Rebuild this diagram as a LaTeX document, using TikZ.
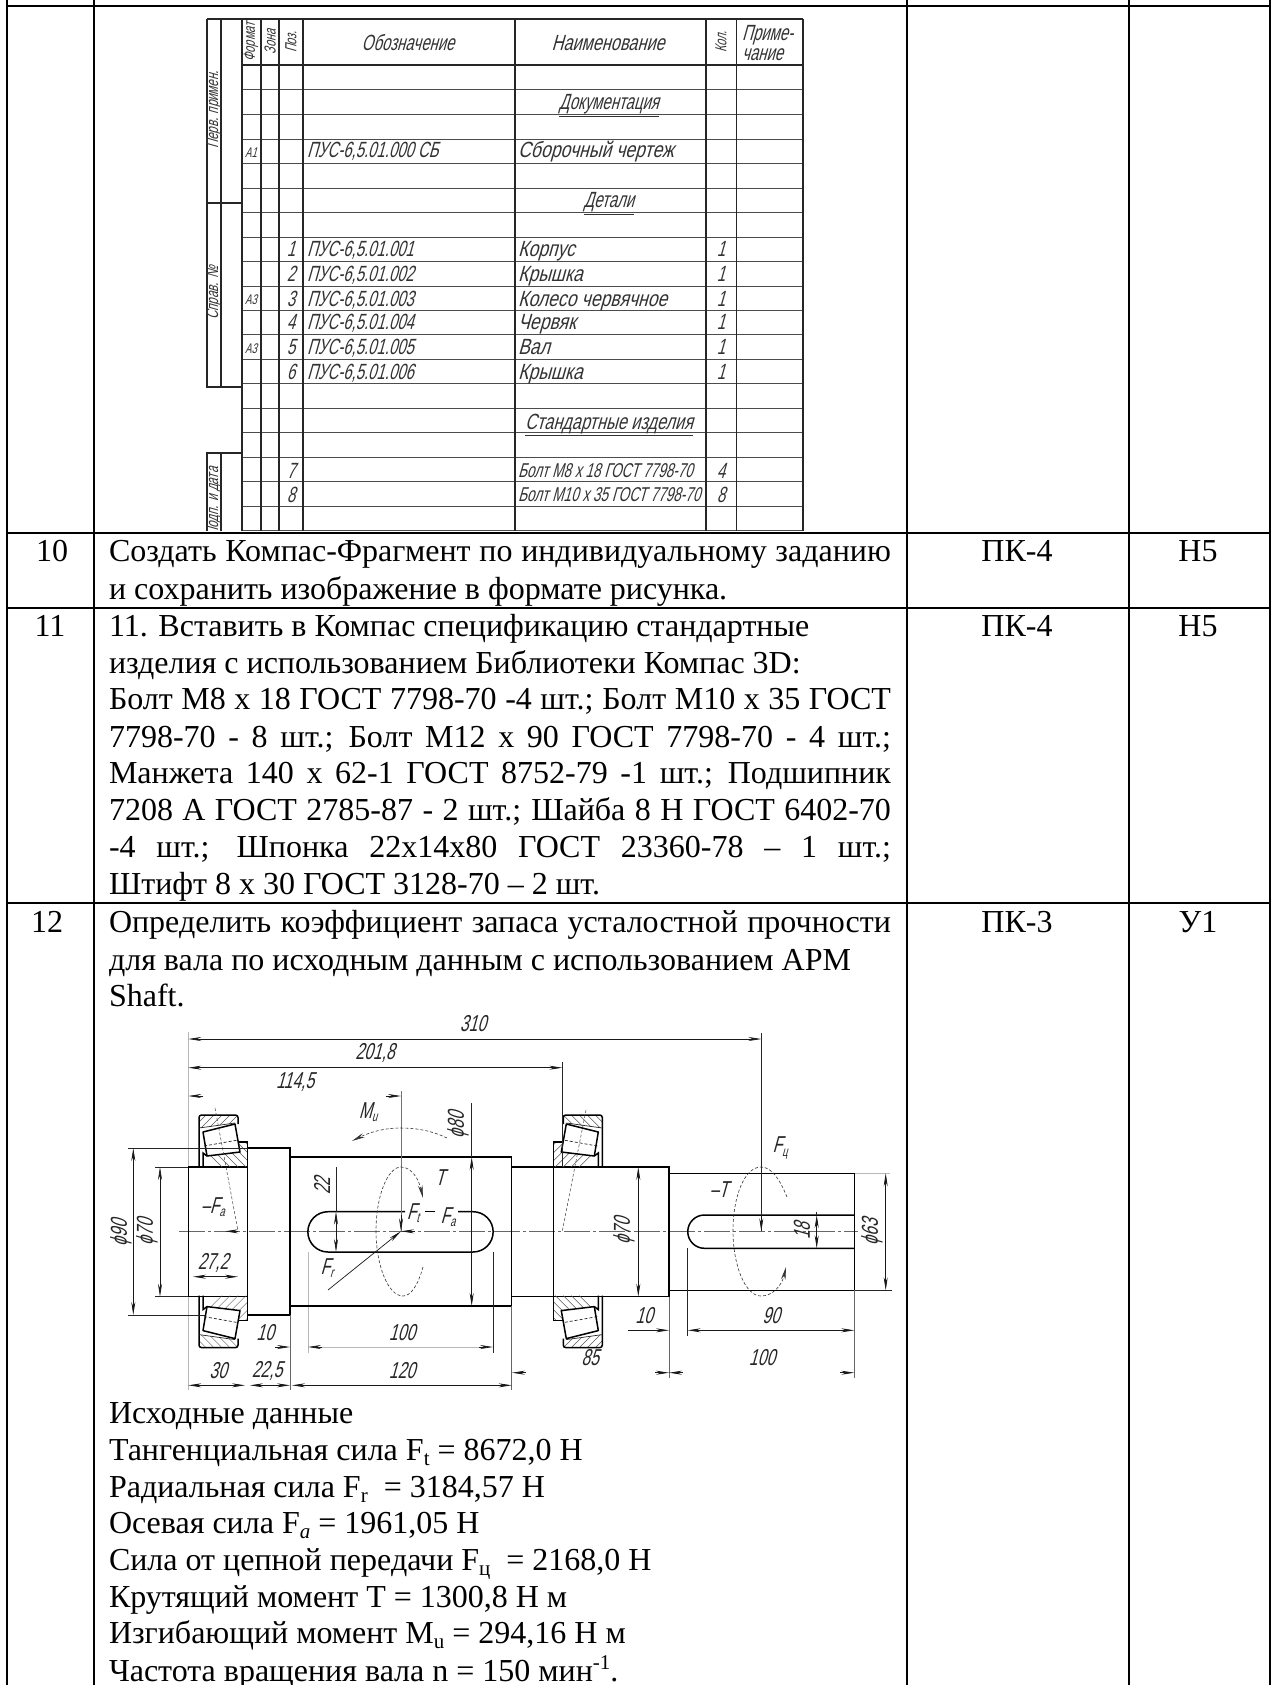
\documentclass[tikz,border=0pt]{standalone}
\usepackage{fontspec}
\setmainfont{Liberation Serif}
\newfontfamily\gost[FakeSlant=0.28,FakeStretch=0.68]{Liberation Sans}
\newfontfamily\gostc[FakeSlant=0.28,FakeStretch=0.74]{Liberation Sans}
\newfontfamily\gostb[FakeSlant=0.28,FakeStretch=0.8]{Liberation Sans}
\usetikzlibrary{arrows.meta}
\newcommand{\sbs}[1]{\raisebox{-5pt}{\fontsize{21}{21}\selectfont #1}}
\newcommand{\sps}[1]{\raisebox{12pt}{\fontsize{21}{21}\selectfont #1}}
\newcommand{\gsub}[1]{\raisebox{-3.5pt}{\fontsize{14}{14}\selectfont #1}}
\newcommand{\jl}[1]{\makebox[782pt][s]{#1}}
\newcommand{\tline}[2]{\node[txt] at (109,#1) {#2};}
\newcommand{\cell}[3]{\node[cel] at (#1,#2) {#3};}
\newcommand{\dtx}[3]{\node[dtext] at (#1,#2) {#3};}
\newcommand{\dtr}[3]{\node[dtext,rotate=90] at (#1,#2) {#3};}
\newcommand{\spr}[4]{\node[spn] at (291,#1) {#2};
  \node[spc,anchor=base west] at (307,#1) {#3};
  \node[spd,anchor=base west] at (518,#1) {#4};
  \node[spn] at (721,#1) {1};}
\newcommand{\bearing}{%
  \begin{scope}
    \clip (199,1128)--(199,1115)--(238,1115)--(238,1123)--cycle;
    \foreach \k in {0,8,...,64} {\draw[hatch] (170+\k,1135)--(195+\k,1110);}
  \end{scope}
  \begin{scope}
    \clip (203,1153)--(207,1156)--(240,1152)--(238,1142)--(247.7,1142)--(247.7,1167)--(203,1167)--cycle;
    \foreach \k in {0,8,...,72} {\draw[hatch] (190+\k,1135)--(225+\k,1170);}
  \end{scope}
  \draw[thickl,rounded corners=2.5pt] (199,1167)--(199,1115)--(238,1115)--(238,1124);
  \draw[thinl] (199,1128)--(235,1123);
  \draw[thickl,line join=round] (203,1132)--(235,1124)--(240,1152)--(207,1156)--cycle;
  \draw[thickl] (203,1167)--(203,1153)--(207,1156);
  \draw[thickl] (238,1142)--(247.7,1142)--(247.7,1167);
  \draw[thinl,densely dashed] (204,1146)--(238,1140);
}
\tikzset{
  txt/.style={anchor=base west,inner sep=0pt,outer sep=0pt,font=\fontsize{32}{36}\selectfont},
  cel/.style={anchor=base,inner sep=0pt,outer sep=0pt,font=\fontsize{32}{36}\selectfont},
  grid/.style={line width=2.3pt,black},
  spc/.style={inner sep=0pt,outer sep=0pt,font=\gost\fontsize{22}{26}\selectfont,text=black!80},
  spd/.style={spc,font=\gostb\fontsize{22}{26}\selectfont},
  spe/.style={spc,font=\gostc\fontsize{22}{26}\selectfont},
  spn/.style={spc,anchor=base,font=\gost\fontsize{22}{26}\selectfont},
  spr/.style={spc,anchor=center,rotate=90},
  heavy/.style={line width=1.5pt,black!85},
  light/.style={line width=0.9pt,black!70},
  dtext/.style={anchor=center,inner sep=0pt,outer sep=0pt,font=\gost\fontsize{23}{26}\selectfont,text=black!85},
  thickl/.style={line width=1.5pt,black},
  thinl/.style={line width=0.7pt,black!85},
  faint/.style={line width=0.5pt,black!28},
  hatch/.style={line width=0.5pt,black!65},
  dim/.style={line width=0.7pt,black!90},
  tip/.style={dim,-{Stealth[length=13pt,width=4pt]}},
  tips/.style={dim,{Stealth[length=13pt,width=4pt]}-{Stealth[length=13pt,width=4pt]}},
  centerl/.style={line width=0.5pt,black!60,dash pattern=on 26pt off 3pt on 3pt off 3pt},
  flow/.style={line width=0.6pt,black!80,densely dashed,-{Stealth[length=13pt,width=4.5pt]}},
  axisd/.style={line width=0.5pt,black!75,densely dashed},
}
\begin{document}
\begin{tikzpicture}[x=1pt,y=-1pt]
\useasboundingbox (0,0) rectangle (1276,1685);
\fill[white] (0,0) rectangle (1276,1685);
% ---- outer table
\foreach \xx in {7.3,94.3,906.7,1128.7,1270} {\draw[grid] (\xx,0)--(\xx,1685);}
\foreach \yy in {6,532.7,607.7,903.3} {\draw[grid] (6.2,\yy)--(1271.2,\yy);}
% ---- rows
\cell{52}{561.7}{10}
\cell{50}{636.7}{11}
\cell{47}{932.7}{12}
\cell{1017}{561.7}{ПК-4}\cell{1198}{561.7}{Н5}
\cell{1017}{636.7}{ПК-4}\cell{1198}{636.7}{Н5}
\cell{1017}{932.7}{ПК-3}\cell{1198}{932.7}{У1}
\tline{561.7}{\jl{Создать Компас-Фрагмент по индивидуальному заданию}}
\tline{599}{и сохранить изображение в формате рисунка.}
\tline{636.7}{11. Вставить в Компас спецификацию стандартные}
\tline{673.5}{изделия с использованием Библиотеки Компас 3D:}
\tline{709}{\jl{Болт М8 х 18 ГОСТ 7798-70 -4 шт.; Болт М10 х 35 ГОСТ}}
\tline{747}{\jl{7798-70 - 8 шт.; Болт М12 х 90 ГОСТ 7798-70 - 4 шт.;}}
\tline{783}{\jl{Манжета 140 х 62-1 ГОСТ 8752-79 -1 шт.; Подшипник}}
\tline{820}{\jl{7208 А ГОСТ 2785-87 - 2 шт.; Шайба 8 Н ГОСТ 6402-70}}
\tline{857}{\jl{-4 шт.; Шпонка 22х14х80 ГОСТ 23360-78 – 1 шт.;}}
\tline{894}{Штифт 8 х 30 ГОСТ 3128-70 – 2 шт.}
\tline{932.7}{\jl{Определить коэффициент запаса усталостной прочности}}
\tline{970}{для вала по исходным данным с использованием АРМ}
\tline{1006.7}{Shaft.}
\tline{1423}{Исходные данные}
\tline{1460}{Тангенциальная сила F\sbs{t} = 8672,0 Н}
\tline{1497}{Радиальная сила F\sbs{r} ~= 3184,57 Н}
\tline{1533}{Осевая сила F\sbs{\itshape a} = 1961,05 Н}
\tline{1570}{Сила от цепной передачи F\sbs{ц} ~= 2168,0 Н}
\tline{1607}{Крутящий момент Т = 1300,8 Н м}
\tline{1643}{Изгибающий момент М\sbs{u} = 294,16 Н м}
\tline{1681}{Частота вращения вала n = 150 мин\sps{-1}.}
% ---- specification
\foreach \yy in {89,114,139,163,188,212,237,261.5,286,310,334,359,383,408,432,457,481,506,530.7}
  {\draw[light] (242,\yy)--(803,\yy);}
\draw[heavy] (242,65)--(803,65);
\foreach \xx in {242,261,279,303,515,706,736.5,803} {\draw[heavy] (\xx,19)--(\xx,530.7);}
\draw[heavy] (207,19)--(803,19);
\draw[heavy] (207,19)--(207,387)--(242,387);
\draw[heavy] (221,19)--(221,387);
\draw[heavy] (207,203)--(242,203);
\draw[heavy] (242,453)--(207,453)--(207,530.7);
\draw[heavy] (221,453)--(221,530.7);
\node[spr,font=\gost\fontsize{17}{20}\selectfont] at (214,110) {Перв. примен.};
\node[spr,font=\gost\fontsize{17}{20}\selectfont] at (214,293) {Справ. №};
\begin{scope}
  \clip (207,453) rectangle (221,530.7);
  \node[spr,font=\gost\fontsize{17}{20}\selectfont] at (214,502) {Подп. и дата};
\end{scope}
\node[spr,font=\gost\fontsize{16}{18}\selectfont] at (251,42) {Формат};
\node[spr,font=\gost\fontsize{16}{18}\selectfont] at (270,42) {Зона};
\node[spr,font=\gost\fontsize{16}{18}\selectfont] at (291,42) {Поз.};
\node[spr,font=\gost\fontsize{16}{18}\selectfont] at (721,42) {Кол.};
\node[spc] at (408,43) {Обозначение};
\node[spe] at (608,43) {Наименование};
\node[spc,anchor=base west] at (742,41) {Приме-};
\node[spc,anchor=base west] at (742,61) {чание};
\node[spc,anchor=base] at (609,110) {\underline{Документация}};
\node[spc,anchor=base] at (609,208) {\underline{Детали}};
\node[spe,anchor=base] at (609,429) {\underline{Стандартные изделия}};
\node[spc,anchor=base,font=\gost\fontsize{14}{15}\selectfont] at (251,158) {А1};
\node[spc,anchor=base west] at (307,158) {ПУС-6,5.01.000 СБ};
\node[spd,anchor=base west] at (518,158) {Сборочный чертеж};
\spr{257}{1}{ПУС-6,5.01.001}{Корпус}
\spr{282}{2}{ПУС-6,5.01.002}{Крышка}
\spr{306}{3}{ПУС-6,5.01.003}{Колесо червячное}
\spr{330}{4}{ПУС-6,5.01.004}{Червяк}
\spr{354}{5}{ПУС-6,5.01.005}{Вал}
\spr{379}{6}{ПУС-6,5.01.006}{Крышка}
\node[spc,anchor=base,font=\gost\fontsize{14}{15}\selectfont] at (251,305) {А3};
\node[spc,anchor=base,font=\gost\fontsize{14}{15}\selectfont] at (251,353) {А3};
\node[spn] at (291,478) {7};
\node[spn] at (291,502) {8};
\node[spc,anchor=base west,font=\gost\fontsize{20}{22}\selectfont] at (518,477) {Болт М8 х 18 ГОСТ 7798-70};
\node[spc,anchor=base west,font=\gost\fontsize{20}{22}\selectfont] at (518,501) {Болт М10 х 35 ГОСТ 7798-70};
\node[spn] at (721,478) {4};
\node[spn] at (721,502) {8};
% ---- shaft: faint extension lines
\draw[faint] (188.3,1032)--(188.3,1167);
\draw[faint] (188.3,1296.7)--(188.3,1390);
\draw[faint] (308,1252)--(308,1353);
\draw[faint] (854.3,1173.3)--(890,1173.3);
\draw[centerl] (179,1231.3)--(858,1231.3);
% ---- shaft outline
\draw[thickl] (188.3,1167)--(247.7,1167)--(247.7,1148)--(290,1148)--(290,1157)--(511.7,1157)--(511.7,1167)--(669,1167)--(669,1173.3)--(854.3,1173.3)--(854.3,1290.3)--(669,1290.3)--(669,1296.7)--(511.7,1296.7)--(511.7,1306)--(290,1306)--(290,1315)--(247.7,1315)--(247.7,1296.7)--(188.3,1296.7)--cycle;
\draw[thickl] (247.7,1167)--(247.7,1296.7) (290,1157)--(290,1306) (511.7,1167)--(511.7,1296.7) (669,1173.3)--(669,1290.3) (553.3,1167)--(553.3,1296.7);
% keyway left
\draw[thickl] (405,1211.7)--(328,1211.7) .. controls (316.9,1211.7) and (307.85,1220.7) .. (307.85,1231.85) .. controls (307.85,1243) and (316.9,1252) .. (328,1252) -- (473,1252) .. controls (484.1,1252) and (493.15,1243) .. (493.15,1231.85) .. controls (493.15,1220.7) and (484.1,1211.7) .. (473,1211.7) -- (458,1211.7);
\draw[thickl] (425,1211.7)--(435,1211.7);
% keyway right
\draw[thickl] (854.3,1215)--(704.4,1215) .. controls (695.2,1215) and (687.75,1222.5) .. (687.75,1231.65) .. controls (687.75,1240.8) and (695.2,1248.3) .. (704.4,1248.3) -- (854.3,1248.3);
% ---- bearings
\bearing
\begin{scope}[shift={(0,2462.6)},yscale=-1]\bearing\end{scope}
\begin{scope}[shift={(801.3,0)},xscale=-1]\bearing\end{scope}
\begin{scope}[shift={(801.3,2462.6)},xscale=-1,yscale=-1]\bearing\end{scope}
\draw[axisd] (215,1108)--(238,1231);
\draw[axisd] (586,1110)--(562.3,1231);
% ---- long dimensions
\draw[tips] (188.3,1039)--(761.3,1039);
\draw[thinl] (761.3,1033)--(761.3,1231.3);
\dtx{473}{1024}{310}
\draw[tips] (188.3,1067.7)--(562.3,1067.7);
\draw[thinl] (562.3,1062)--(562.3,1167);
\dtx{375}{1053}{201,8}
\draw[tip] (203,1096)--(188.3,1096);
\draw[tip] (386,1096)--(401,1096);
\draw[line width=0.6pt,black!55] (401,1091)--(401,1231.3);
\dtx{295}{1082}{114,5}
% ---- diameters
\draw[thinl] (128,1148)--(248,1148) (128,1315)--(205,1315);
\draw[tips] (133.3,1148)--(133.3,1315);
\dtr{121}{1233}{ϕ90}
\draw[thinl] (155,1167)--(188,1167) (155,1296.7)--(188,1296.7);
\draw[tips] (160,1167)--(160,1296.7);
\dtr{147}{1232}{ϕ70}
\draw[tips] (471.7,1157)--(471.7,1306);
\draw[thinl] (471.7,1103)--(471.7,1157);
\dtr{458}{1125}{ϕ80}
\draw[tips] (638.3,1167)--(638.3,1296.7);
\dtr{624}{1231}{ϕ70}
\draw[tips] (885.7,1173.3)--(885.7,1290.3);
\draw[thinl] (854.3,1290.3)--(892,1290.3);
\dtr{872}{1232}{ϕ63}
% keyway widths
\draw[tips] (336,1211.7)--(336,1252);
\draw[thinl] (336,1167)--(336,1211.7);
\dtr{322}{1186}{22}
\draw[tips] (816.7,1215)--(816.7,1248.3);
\draw[thinl] (816.7,1212)--(816.7,1215);
\dtr{802}{1231}{18}
% 27,2
\draw[tips] (193,1276.7)--(238,1276.7);
\dtx{213}{1263}{27,2}
% forces
\draw[tip] (238,1231.3)--(225,1231.3);
\dtx{213}{1207}{–F\gsub{a}}
\dtx{368}{1112}{M\gsub{u}}
\draw[flow] (447,1138) .. controls (430,1130) and (415,1128) .. (400,1128) .. controls (383,1128) and (368,1133) .. (352,1141);
\dtx{440}{1178}{T}
\draw[flow] (423,1267) .. controls (418,1285) and (411,1296) .. (403,1296) .. controls (388,1296) and (376,1265) .. (376,1231) .. controls (376,1195) and (388,1167) .. (401,1167) .. controls (412,1167) and (419,1180) .. (423,1198);
\draw[tip] (401,1215)--(401,1231.3);
\draw[tip] (415,1231.3)--(401,1231.3);
\draw[tip] (328,1290)--(401,1231.3);
\dtx{413}{1213}{F\gsub{t}}
\dtx{448}{1217}{F\gsub{a}}
\dtx{327}{1268}{F\gsub{r}}
\dtx{780}{1148}{F\gsub{ц}}
\dtx{719}{1190}{–T}
\draw[tip] (761.3,1215)--(761.3,1231.3);
\draw[flow] (787,1197) .. controls (780,1180) and (772,1167) .. (761,1167) .. controls (745,1167) and (733,1195) .. (733,1231) .. controls (733,1265) and (745,1296) .. (761,1296) .. controls (773,1296) and (782,1285) .. (786,1267);
% ---- bottom dimensions
\draw[thinl] (493,1252)--(493,1353);
\draw[thinl] (687.7,1248.3)--(687.7,1336);
\draw[line width=0.6pt,black!60] (290,1315)--(290,1390) (511.7,1306)--(511.7,1390) (669,1296.7)--(669,1378) (854.3,1290.3)--(854.3,1378);
\dtx{265}{1333}{10}
\draw[tip] (275,1347)--(290,1347);
\draw[faint] (322,1347)--(479,1347);
\draw[tip] (322,1347)--(308,1347);
\draw[tip] (479,1347)--(493,1347);
\dtx{402}{1333}{100}
\draw[tips] (188.3,1385.3)--(245,1385.3);
\draw[tips] (250,1385.3)--(290,1385.3);
\draw[tips] (292,1385.3)--(511.7,1385.3);
\dtx{218}{1371}{30}
\dtx{267}{1371}{22,5}
\dtx{402}{1371}{120}
\draw[tip] (526,1372.7)--(512,1372.7);
\draw[tip] (655,1372.7)--(669,1372.7);
\draw[tip] (683,1372.7)--(669,1372.7);
\draw[tip] (840,1372.7)--(854.3,1372.7);
\dtx{590}{1358}{85}
\dtx{762}{1358}{100}
\draw[tip] (628,1330.3)--(669,1330.3);
\draw[tips] (687.7,1330.3)--(854.3,1330.3);
\dtx{644}{1316}{10}
\dtx{771}{1316}{90}
\end{tikzpicture}
\end{document}
